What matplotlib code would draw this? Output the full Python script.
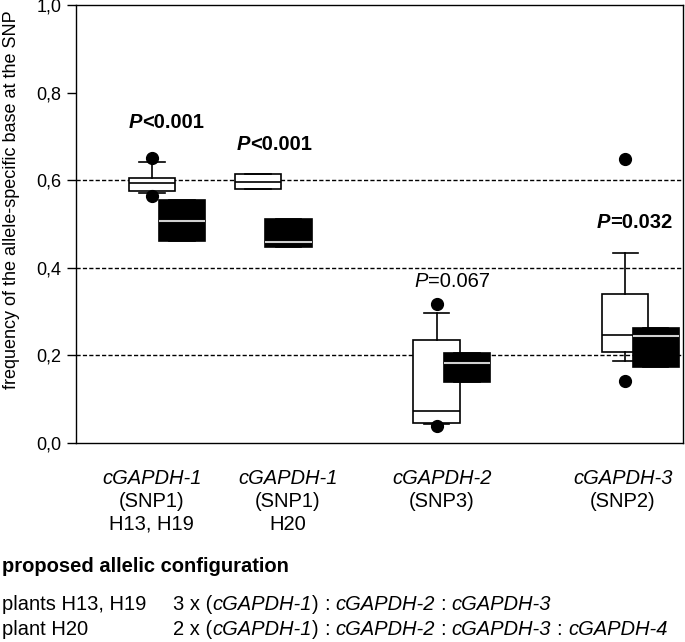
import matplotlib
matplotlib.use("Agg")
import matplotlib.pyplot as plt
from matplotlib.transforms import IdentityTransform

plt.rcParams["font.family"] = ["Liberation Sans", "DejaVu Sans"]

# ── data ──
genes = ["cGAPDH-1", "cGAPDH-1", "cGAPDH-2", "cGAPDH-3"]
snps = ["(SNP1)", "(SNP1)", "(SNP3)", "(SNP2)"]
plants = ["H13, H19", "H20", "", ""]

white_q1 = [0.575, 0.580, 0.045, 0.207]
white_med = [0.594, 0.596, 0.073, 0.247]
white_q3 = [0.605, 0.614, 0.235, 0.340]
white_lo = [0.571, 0.580, 0.043, 0.188]
white_hi = [0.642, 0.614, 0.296, 0.434]
white_out = [[0.651, 0.565], [], [0.317, 0.039], [0.648, 0.142]]

black_q1 = [0.461, 0.448, 0.139, 0.173]
black_med = [0.507, 0.460, 0.183, 0.244]
black_q3 = [0.555, 0.511, 0.205, 0.262]

p_vals = ["<0.001", "<0.001", "=0.067", "=0.032"]
p_bold = [True, True, False, True]
p_y = [0.719, 0.669, 0.356, 0.491]

yticks = [0.0, 0.2, 0.4, 0.6, 0.8, 1.0]
ytick_labels = ["0,0", "0,2", "0,4", "0,6", "0,8", "1,0"]
grid_y = [0.2, 0.4, 0.6]

config_rows = ["plants H13, H19", "plant H20"]
config_copies = ["3 x (", "2 x ("]
config_genes = [["cGAPDH-2", "cGAPDH-3"], ["cGAPDH-2", "cGAPDH-3", "cGAPDH-4"]]

# ── layout ──
W, H = 685, 642
pos = [1.25, 3.0, 5.94, 9.05]
off = 0.5
label_x = [1.25, 3.49, 6.03, 9.01]
p_x = [1.49, 3.26, 6.20, 9.20]

fig = plt.figure(figsize=(W / 100, H / 100), dpi=100)
ax = fig.add_axes([76 / W, 1 - 443 / H, 607 / W, 438 / H])

for g in grid_y:
    ax.axhline(g, color="black", lw=1.0, ls=(0, (3, 1.6)), zorder=0.5)

white_stats = [dict(q1=a, med=m, q3=b, whislo=lo, whishi=hi, fliers=f)
               for a, m, b, lo, hi, f in zip(white_q1, white_med, white_q3, white_lo, white_hi, white_out)]
black_stats = [dict(q1=a, med=m, q3=b, whislo=a, whishi=b, fliers=[])
               for a, m, b in zip(black_q1, black_med, black_q3)]

lw = 1.2
ax.bxp(white_stats, positions=pos, widths=0.76, capwidths=0.42, patch_artist=True,
       manage_ticks=False, zorder=2,
       boxprops=dict(facecolor="white", edgecolor="black", linewidth=lw),
       medianprops=dict(color="black", linewidth=lw),
       whiskerprops=dict(color="black", linewidth=lw),
       capprops=dict(color="black", linewidth=lw),
       flierprops=dict(marker="o", markerfacecolor="black", markeredgecolor="black", markersize=8.5))
ax.bxp(black_stats, positions=[p + off for p in pos], widths=0.76, capwidths=0.42, patch_artist=True,
       manage_ticks=False, zorder=3,
       boxprops=dict(facecolor="black", edgecolor="black", linewidth=lw),
       medianprops=dict(color="#d0d0d0", linewidth=1.5),
       whiskerprops=dict(color="black", linewidth=lw),
       capprops=dict(color="black", linewidth=lw))

ax.set_xlim(0, 10)
ax.set_ylim(0, 1)
ax.set_xticks([])
ax.set_yticks(yticks)
ax.set_yticklabels(ytick_labels, fontsize=13)
ax.tick_params(axis="y", direction="out", length=6.5, width=1, pad=4)
for s in ax.spines.values():
    s.set_linewidth(1.0)

fig.text(12 / W, 1 - 200 / H, "frequency of the allele-specific base at the SNP",
         rotation=90, ha="center", va="center", fontsize=13)

renderer = fig.canvas.get_renderer()


def text_w(s, **kw):
    t = fig.text(0, 0, s, **kw)
    w = t.get_window_extent(renderer).width
    t.remove()
    return w


def rich(x, y, parts, size=14.5, ha="left"):
    # x, y in display pixels, y is the baseline; parts = (text, style, weight)
    pieces = []
    for s, style, weight in parts:
        kw = dict(fontsize=size, style=style, weight=weight)
        core = s.strip(" ")
        lead = len(s) - len(s.lstrip(" "))
        trail = len(s) - len(s.rstrip(" "))
        space = text_w("x x", **kw) - text_w("xx", **kw)
        pieces.append((lead * space, text_w(core, **kw) if core else 0, trail * space, core, kw))
    total = sum(a + b + c for a, b, c, _, _ in pieces)
    if ha == "center":
        x -= total / 2
    for a, b, c, core, kw in pieces:
        x += a
        if core:
            fig.text(x, y, core, transform=IdentityTransform(), ha="left", va="baseline", **kw)
        x += b + c


# P values
for x, y, txt, bold in zip(p_x, p_y, p_vals, p_bold):
    px, py = ax.transData.transform((x, y))
    wt = "bold" if bold else "normal"
    rich(px, py, [("P", "italic", wt), (txt, "normal", wt)], ha="center")

# category labels under the axis
for x, g, s, pl in zip(label_x, genes, snps, plants):
    px = ax.transData.transform((x, 0))[0]
    rich(px, H - 484, [(g, "italic", "normal")], ha="center")
    rich(px, H - 507, [(s, "normal", "normal")], ha="center")
    if pl:
        rich(px, H - 530, [(pl, "normal", "normal")], ha="center")

# allelic configuration block
rich(2, H - 572, [("proposed allelic configuration", "normal", "bold")])
for i, (row, cp, gl) in enumerate(zip(config_rows, config_copies, config_genes)):
    y = H - (610 + 25 * i)
    rich(2, y, [(row, "normal", "normal")])
    parts = [(cp, "normal", "normal"), ("cGAPDH-1", "italic", "normal"), (")", "normal", "normal")]
    for g in gl:
        parts += [(" : ", "normal", "normal"), (g, "italic", "normal")]
    rich(173, y, parts)

fig.savefig("out.png", dpi=100)
